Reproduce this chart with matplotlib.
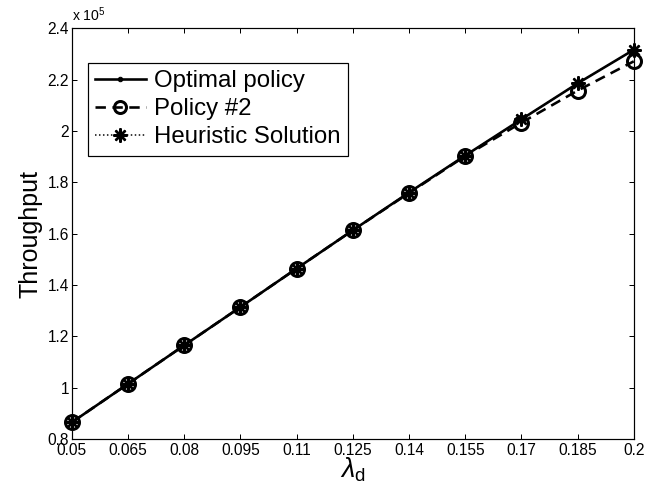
import matplotlib.pyplot as plt
from matplotlib.ticker import FuncFormatter

plt.rcParams['font.family'] = ['Liberation Sans', 'DejaVu Sans']
plt.rcParams['mathtext.fontset'] = 'custom'
plt.rcParams['mathtext.rm'] = 'Liberation Sans'
plt.rcParams['mathtext.it'] = 'Liberation Sans:italic'

# arrival rate values on the x axis
lambda_d = [0.05, 0.065, 0.08, 0.095, 0.11, 0.125, 0.14, 0.155, 0.17, 0.185, 0.2]

# throughput for each policy
optimal = [86500, 101500, 116500, 131400, 146400, 161300, 176000, 190400, 204500, 218500, 231600]
policy2 = [86500, 101500, 116500, 131400, 146400, 161300, 175800, 190200, 203200, 215700, 227100]
heuristic = [86500, 101500, 116500, 131400, 146400, 161300, 176000, 190400, 204500, 218500, 231600]

y_ticks = [0.8, 1.0, 1.2, 1.4, 1.6, 1.8, 2.0, 2.2, 2.4]
scale = 1e5


def fmt_tick(v, _pos):
    return f"{v:g}"


fig = plt.figure(figsize=(9, 7), dpi=72)
ax = fig.add_axes([0.111, 0.129, 0.867, 0.815])

ax.plot(lambda_d, [v / scale for v in optimal], '-', color='black', lw=2.6,
        marker='.', markersize=9, label='Optimal policy', clip_on=False)
ax.plot(lambda_d, [v / scale for v in policy2], '--', color='black', lw=2.6,
        marker='o', markersize=14, markerfacecolor='none', markeredgewidth=3,
        dashes=(4, 2.5), label='Policy #2', clip_on=False)
ax.plot(lambda_d, [v / scale for v in heuristic], ':', color='black', lw=1.5,
        marker=(8, 2, 0), markersize=14, markeredgewidth=2.4,
        label='Heuristic Solution', clip_on=False)

ax.set_xlim(0.05, 0.2)
ax.set_ylim(0.8, 2.4)
ax.set_xticks(lambda_d)
ax.set_yticks(y_ticks)
ax.xaxis.set_major_formatter(FuncFormatter(fmt_tick))
ax.yaxis.set_major_formatter(FuncFormatter(fmt_tick))
ax.tick_params(direction='in', length=5, width=1, top=True, right=True,
               labelsize=15.5)
ax.tick_params(axis='x', pad=4)
ax.tick_params(axis='y', pad=3)
for spine in ax.spines.values():
    spine.set_linewidth(1.2)

ax.text(0.0, 1.01, r'x 10$^5$', transform=ax.transAxes, fontsize=14,
        ha='left', va='bottom')

ax.set_xlabel(r'$\lambda_{\rm d}$', fontsize=27, labelpad=-2)
ax.set_ylabel('Throughput', fontsize=25, labelpad=5)

leg = ax.legend(loc='upper left', bbox_to_anchor=(0.0285, 0.915), borderaxespad=0,
                fontsize=24, handlelength=2.1, handletextpad=0.35,
                labelspacing=0.25, borderpad=0.3, fancybox=False,
                framealpha=1, edgecolor='black')
leg.get_frame().set_linewidth(1.2)
for h in leg.legend_handles:
    if h.get_marker() == 'o':
        h.set_markersize(12)

fig.savefig('out.png', dpi=72)
